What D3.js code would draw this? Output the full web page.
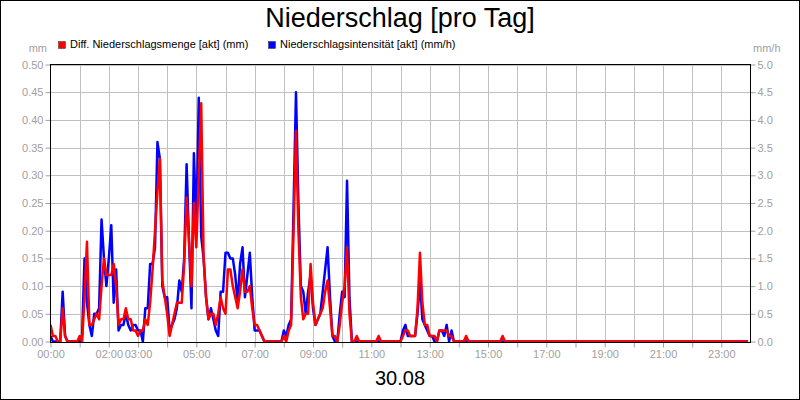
<!DOCTYPE html>
<html>
<head>
<meta charset="utf-8">
<script src="https://cdn.jsdelivr.net/npm/d3@7"></script>
<style>
  html, body { margin: 0; padding: 0; background: #fff; }
  svg { display: block; font-family: "Liberation Sans", Arial, sans-serif; }
</style>
</head>
<body>
<svg id="chart" width="800" height="400"></svg>
<script>
// ---------- DATA (5-minute steps, 00:00 .. 23:55) ----------
const title = "Niederschlag [pro Tag]";
const dateLabel = "30.08";
const seriesNames = ["Diff. Niederschlagsmenge [akt] (mm)", "Niederschlagsintensität [akt] (mm/h)"];
const seriesColors = ["#ff0000", "#0000ff"];
const leftUnit = "mm";
const rightUnit = "mm/h";
const leftTicks = [0, 0.05, 0.10, 0.15, 0.20, 0.25, 0.30, 0.35, 0.40, 0.45, 0.50];
const rightTicks = [0, 0.5, 1.0, 1.5, 2.0, 2.5, 3.0, 3.5, 4.0, 4.5, 5.0];
const xTickLabels = ["00:00", "02:00", "03:00", "05:00", "07:00", "09:00", "11:00", "13:00", "15:00", "17:00", "19:00", "21:00", "23:00"];
const stepMinutes = 5;

// Diff. Niederschlagsmenge (mm), left axis
const mengeMm = [
  0.03,0.01,0.01,0,0,0.06,0.01,0,0,0,
  0,0,0.01,0,0.08,0.18,0.03,0.03,0.04,0.05,
  0.04,0.10,0.15,0.12,0.12,0.12,0.14,0.10,0.03,0.04,
  0.04,0.06,0.04,0.04,0.02,0.02,0.01,0.02,0.02,0.04,
  0.03,0.07,0.13,0.20,0.27,0.33,0.11,0.08,0.05,0.01,
  0.03,0.05,0.07,0.07,0.07,0.14,0.26,0.18,0.10,0.25,
  0.17,0.30,0.43,0.15,0.08,0.04,0.05,0.05,0.03,0.05,
  0.08,0.06,0.05,0.13,0.13,0.10,0.08,0.06,0.09,0.13,
  0.09,0.09,0.10,0.06,0.03,0.03,0.02,0.01,0,0,
  0,0,0,0,0,0,0.01,0,0.02,0.03,
  0.20,0.38,0.20,0.08,0.04,0.05,0.05,0.14,0.07,0.03,
  0.04,0.05,0.06,0.09,0.11,0.06,0.01,0.01,0,0.03,
  0.07,0.10,0.17,0.05,0,0,0.01,0,0,0,
  0,0,0,0,0,0.01,0,0,0,0,
  0,0,0,0,0,0.01,0.02,0.02,0.01,0.01,
  0.01,0.06,0.16,0.07,0.03,0.03,0.01,0.01,0.01,0,
  0.02,0.02,0.02,0.02,0.01,0.01,0,0,0,0,
  0,0.01,0,0,0,0,0,0,0,0,
  0,0,0,0,0,0,0.01,0,0,0,
  0,0,0,0,0,0,0,0,0,0,
  0,0,0,0,0,0,0,0,0,0,
  0,0,0,0,0,0,0,0,0,0,
  0,0,0,0,0,0,0,0,0,0,
  0,0,0,0,0,0,0,0,0,0,
  0,0,0,0,0,0,0,0,0,0,
  0,0,0,0,0,0,0,0,0,0,
  0,0,0,0,0,0,0,0,0,0,
  0,0,0,0,0,0,0,0,0,0,
  0,0,0,0,0,0,0,0
];

// Niederschlagsintensität (mm/h), right axis
const intensitaetMmh = [
  0.1,0,0,0,0,0.9,0.1,0,0,0,
  0,0,0,0.1,1.5,0.7,0.3,0.1,0.5,0.5,
  0.6,2.2,1.5,1.0,1.5,2.1,0.7,1.3,0.2,0.3,
  0.3,0.5,0.3,0.2,0.3,0.3,0.2,0.2,0,0.6,
  0.6,1.4,1.4,1.7,3.6,3.3,1.0,0.8,0.8,0.2,
  0.3,0.4,0.6,1.1,0.9,1.5,3.2,1.8,0.6,3.4,
  2.0,4.4,1.9,1.5,0.8,0.4,0.6,0.4,0.2,0.1,
  0.9,0.9,1.6,1.6,1.5,1.5,1.2,0.7,1.4,1.7,
  0.8,1.2,1.6,0.8,0.2,0.2,0.2,0.1,0,0,
  0,0,0,0,0,0,0.2,0.1,0.3,0.4,
  2.4,4.5,2.5,1.0,0.9,0.5,0.9,1.2,0.6,0.3,
  0.4,0.5,0.9,1.3,1.7,0.8,0.1,0,0,0.5,
  0.9,0.8,2.9,0.8,0,0,0,0,0,0,
  0,0,0,0,0,0,0,0,0,0,
  0,0,0,0,0,0.2,0.3,0.1,0.1,0.1,
  0.1,0.5,1.1,0.4,0.3,0.2,0.1,0.1,0,0,
  0.2,0.2,0.1,0.3,0,0.2,0,0,0,0,
  0,0,0,0,0,0,0,0,0,0,
  0,0,0,0,0,0,0,0,0,0,
  0,0,0,0,0,0,0,0,0,0,
  0,0,0,0,0,0,0,0,0,0,
  0,0,0,0,0,0,0,0,0,0,
  0,0,0,0,0,0,0,0,0,0,
  0,0,0,0,0,0,0,0,0,0,
  0,0,0,0,0,0,0,0,0,0,
  0,0,0,0,0,0,0,0,0,0,
  0,0,0,0,0,0,0,0,0,0,
  0,0,0,0,0,0,0,0,0,0,
  0,0,0,0,0,0,0,0
];

// ---------- LAYOUT ----------
const W = 800, H = 400;
const plot = { left: 50.5, right: 750.5, top: 64.5, bottom: 341.5 };
const gridColor = "#c0c0c0";
const labelColor = "#a0a0a0";

const svg = d3.select("#chart");
svg.append("rect").attr("x", 0).attr("y", 0).attr("width", W).attr("height", H).attr("fill", "#fff");

const x = d3.scaleLinear().domain([0, 24 * 60]).range([plot.left, plot.right]);
const yL = d3.scaleLinear().domain([0, 0.5]).range([plot.bottom, plot.top]);
const yR = d3.scaleLinear().domain([0, 5]).range([plot.bottom, plot.top]);

// horizontal grid
svg.append("g").selectAll("line").data(leftTicks.slice(1)).join("line")
  .attr("x1", plot.left).attr("x2", plot.right)
  .attr("y1", d => Math.round(yL(d)) + 0.5).attr("y2", d => Math.round(yL(d)) + 0.5)
  .attr("stroke", gridColor).attr("stroke-width", 1);

// vertical grid (every hour)
const hours = d3.range(1, 24);
svg.append("g").selectAll("line").data(hours).join("line")
  .attr("x1", h => Math.round(x(h * 60)) + 0.5).attr("x2", h => Math.round(x(h * 60)) + 0.5)
  .attr("y1", plot.top).attr("y2", plot.bottom + 1)
  .attr("stroke", gridColor).attr("stroke-width", 1);

// left axis
const axL = svg.append("g").attr("transform", `translate(${plot.left},0)`)
  .call(d3.axisLeft(yL).tickValues(leftTicks).tickFormat(d3.format(".2f")).tickSize(5).tickPadding(2));
axL.select(".domain").remove();
axL.selectAll("line").attr("stroke", labelColor);
axL.selectAll("text").attr("fill", labelColor).attr("font-size", 11).attr("font-family", "Liberation Sans, Arial, sans-serif");

// right axis
const axR = svg.append("g").attr("transform", `translate(${plot.right},0)`)
  .call(d3.axisRight(yR).tickValues(rightTicks).tickFormat(d3.format(".1f")).tickSize(5).tickPadding(2));
axR.select(".domain").remove();
axR.selectAll("line").attr("stroke", labelColor);
axR.selectAll("text").attr("fill", labelColor).attr("font-size", 11).attr("font-family", "Liberation Sans, Arial, sans-serif");

// bottom axis ticks (every hour) + labels
const tickMinutes = xTickLabels.map(s => +s.slice(0, 2) * 60);
const axB = svg.append("g").attr("transform", `translate(0,${plot.bottom + 1})`)
  .call(d3.axisBottom(x).tickValues(d3.range(0, 24).map(h => h * 60)).tickSize(5)
    .tickFormat(m => { const i = tickMinutes.indexOf(m); return i >= 0 ? xTickLabels[i] : ""; }).tickPadding(3));
axB.select(".domain").remove();
axB.selectAll("line").attr("stroke", labelColor);
axB.selectAll("text").attr("fill", labelColor).attr("font-size", 11).attr("font-family", "Liberation Sans, Arial, sans-serif");

// unit labels
svg.append("text").attr("x", 47).attr("y", 52).attr("text-anchor", "end")
  .attr("font-size", 11).attr("fill", labelColor).text(leftUnit);
svg.append("text").attr("x", 753).attr("y", 52).attr("text-anchor", "start")
  .attr("font-size", 11).attr("fill", labelColor).text(rightUnit);

// lines
const clip = svg.append("clipPath").attr("id", "plotclip").append("rect")
  .attr("x", plot.left).attr("y", plot.top - 3).attr("width", plot.right - plot.left).attr("height", plot.bottom - plot.top + 6);

const lineL = d3.line().x((d, i) => x(i * stepMinutes)).y(d => yL(d));
const lineR = d3.line().x((d, i) => x(i * stepMinutes)).y(d => yR(d));

const lines = svg.append("g").attr("clip-path", "url(#plotclip)");
lines.append("path").datum(intensitaetMmh).attr("d", lineR)
  .attr("fill", "none").attr("stroke", seriesColors[1]).attr("stroke-width", 2.5).attr("stroke-linejoin", "round");
lines.append("path").datum(mengeMm).attr("d", lineL)
  .attr("fill", "none").attr("stroke", seriesColors[0]).attr("stroke-width", 2.5).attr("stroke-linejoin", "round");

// plot frame
svg.append("rect").attr("x", plot.left).attr("y", plot.top)
  .attr("width", plot.right - plot.left).attr("height", plot.bottom + 1 - plot.top)
  .attr("fill", "none").attr("stroke", "#000").attr("stroke-width", 1);

// title
svg.append("text").attr("x", W / 2).attr("y", 27).attr("text-anchor", "middle")
  .attr("font-size", 27).attr("fill", "#000").text(title);

// legend
const legendX = [58, 268];
seriesNames.forEach((name, i) => {
  svg.append("rect").attr("x", legendX[i] + 0.5).attr("y", 41.5).attr("width", 7).attr("height", 7)
    .attr("fill", seriesColors[i]).attr("stroke", "#333").attr("stroke-width", 0.5);
  svg.append("text").attr("x", legendX[i] + 12).attr("y", 48)
    .attr("font-size", 11).attr("fill", "#000").text(name);
});

// date label
svg.append("text").attr("x", W / 2).attr("y", 385).attr("text-anchor", "middle")
  .attr("font-size", 20).attr("fill", "#000").text(dateLabel);

// outer border
svg.append("rect").attr("x", 0.5).attr("y", 0.5).attr("width", W - 1).attr("height", H - 1)
  .attr("fill", "none").attr("stroke", "#000").attr("stroke-width", 1);
</script>
</body>
</html>
